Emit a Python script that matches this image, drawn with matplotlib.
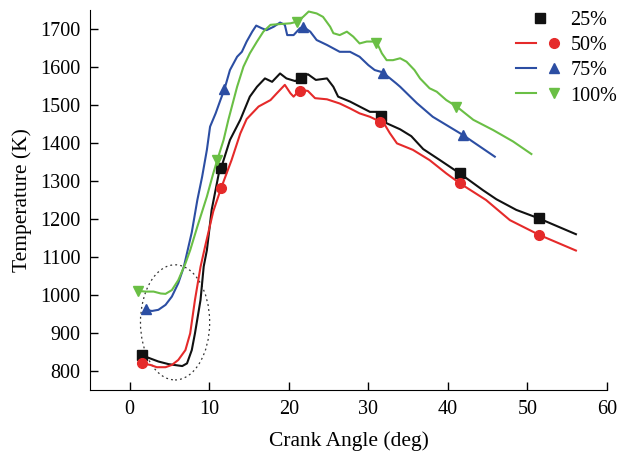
import numpy as np
import matplotlib
matplotlib.use("Agg")
import matplotlib.pyplot as plt
from matplotlib.patches import Ellipse
from matplotlib.legend_handler import HandlerTuple

plt.rcParams['font.family'] = ['Liberation Serif', 'DejaVu Serif']
plt.rcParams['mathtext.fontset'] = 'stix'

## Data
labels = ["25%", "50%", "75%", "100%"]
colors = ["#111111", "#e52a2a", "#2c4ea3", "#6abf45"]
markers = ["s", "o", "^", "v"]

# 25%
x25 = [1.5, 2.2, 3.6, 4.9, 6.6, 7.2, 7.8, 8.2, 8.9, 9.3, 9.7, 10.3, 11.2, 11.5, 12.6, 13.9,
       15.1, 16.0, 17.0, 17.9, 18.9, 19.7, 20.8, 21.4, 22.4, 23.4, 24.8, 25.6, 26.2, 27.7,
       28.9, 30.2, 31.0, 31.7, 32.3, 34.0, 35.4, 36.9, 39.0, 41.5, 44.4, 46.1, 48.6, 51.4, 56.1]
y25 = [842, 836, 825, 818, 813, 820, 855, 899, 987, 1075, 1118, 1224, 1320, 1335, 1408, 1461,
       1522, 1548, 1570, 1561, 1583, 1570, 1563, 1570, 1581, 1566, 1570, 1548, 1522, 1509,
       1496, 1482, 1482, 1471, 1452, 1436, 1418, 1384, 1355, 1320, 1276, 1252, 1224, 1202, 1160]
mx25 = [1.5, 11.5, 21.5, 31.6, 41.5, 51.4]
my25 = [842, 1335, 1571, 1471, 1320, 1202]

# 50%
x50 = [1.5, 2.6, 3.4, 4.5, 5.3, 6.1, 7.0, 7.6, 8.2, 8.9, 9.5, 10.5, 11.5, 12.8, 13.9, 14.7,
       16.2, 17.7, 18.5, 19.5, 20.2, 20.6, 21.4, 22.4, 23.3, 24.8, 26.4, 27.7, 28.9, 30.2,
       31.5, 32.1, 32.7, 33.6, 35.6, 37.7, 39.8, 41.5, 44.8, 47.8, 51.5, 56.1]
y50 = [820, 816, 810, 810, 816, 829, 855, 899, 987, 1074, 1130, 1220, 1282, 1355, 1425, 1463,
       1496, 1513, 1531, 1553, 1531, 1522, 1540, 1537, 1518, 1515, 1504, 1491, 1478, 1469,
       1456, 1447, 1426, 1399, 1382, 1355, 1320, 1294, 1250, 1197, 1158, 1117]
mx50 = [1.5, 11.5, 21.4, 31.5, 41.5, 51.5]
my50 = [820, 1282, 1538, 1456, 1294, 1158]

# 75%
x75 = [2.0, 2.8, 3.6, 4.5, 5.3, 6.1, 6.8, 7.8, 8.5, 9.1, 9.7, 10.1, 10.8, 11.4, 11.9, 12.6,
       13.5, 14.1, 14.7, 15.4, 15.9, 16.6, 17.2, 18.1, 18.9, 19.5, 19.8, 20.6, 21.4, 21.8,
       22.7, 23.5, 24.8, 26.4, 27.7, 28.9, 30.0, 30.8, 31.8, 33.5, 34.0, 36.1, 38.1, 41.9, 45.9]
y75 = [961, 958, 961, 974, 996, 1031, 1074, 1165, 1250, 1311, 1382, 1443, 1478, 1513, 1541, 1592,
       1627, 1640, 1667, 1693, 1709, 1702, 1697, 1706, 1717, 1711, 1684, 1684, 1702, 1706,
       1693, 1671, 1658, 1640, 1640, 1627, 1605, 1592, 1586, 1557, 1548, 1505, 1469, 1421, 1364]
mx75 = [2.0, 11.9, 21.8, 31.8, 41.9]
my75 = [963, 1541, 1706, 1584, 1421]

# 100%
x100 = [1.0, 2.0, 3.0, 3.9, 4.5, 5.3, 6.1, 7.0, 7.6, 8.5, 9.7, 10.5, 11.0, 11.8, 12.4, 13.5,
        14.3, 15.1, 16.0, 16.8, 17.7, 18.9, 20.2, 21.0, 21.8, 22.5, 23.5, 24.3, 25.2, 25.6,
        26.4, 27.3, 28.1, 28.9, 29.8, 31.0, 31.7, 32.3, 33.1, 34.0, 34.8, 35.8, 36.5, 37.7,
        38.6, 39.8, 41.1, 43.2, 45.7, 48.2, 50.5]
y100 = [1011, 1009, 1009, 1004, 1003, 1013, 1039, 1083, 1118, 1180, 1259, 1320, 1355, 1408, 1461, 1548,
        1601, 1636, 1667, 1693, 1711, 1713, 1715, 1719, 1732, 1746, 1741, 1732, 1706, 1689,
        1684, 1693, 1680, 1662, 1667, 1667, 1636, 1618, 1618, 1623, 1614, 1592, 1570, 1544,
        1535, 1513, 1496, 1461, 1434, 1404, 1371]
mx100 = [1.0, 11.0, 21.0, 31.0, 41.0]
my100 = [1011, 1355, 1719, 1664, 1495]

curves = [(x25, y25), (x50, y50), (x75, y75), (x100, y100)]
marks = [(mx25, my25), (mx50, my50), (mx75, my75), (mx100, my100)]


def main():
    fig = plt.figure(figsize=(6.27, 4.57), dpi=100)
    ax = fig.add_axes([0.1435, 0.1466, 0.8245, 0.8315])

    handles = []
    for i in range(4):
        line, = ax.plot(curves[i][0], curves[i][1], color=colors[i], lw=1.5)
        pts, = ax.plot(marks[i][0], marks[i][1], ls='none', marker=markers[i],
                       color=colors[i], ms=7)
        # 25% shows only the marker in the legend
        if i == 0:
            handles.append(pts)
        else:
            handles.append((line, pts))

    # dotted ellipse around the start region
    ax.add_patch(Ellipse((5.7, 928), 8.7, 303, fill=False, ls=(0, (1.5, 2.5)),
                         lw=0.9, color='#333333'))

    ax.set_xlim(-5, 60)
    ax.set_ylim(750, 1750)
    ax.set_xticks(np.arange(0, 61, 10))
    ax.set_yticks(np.arange(800, 1701, 100))
    ax.spines['top'].set_visible(False)
    ax.spines['right'].set_visible(False)
    ax.tick_params(direction='in', length=6, width=1, labelsize=14.5, pad=7)
    ax.set_xlabel("Crank Angle (deg)", fontsize=15.5, labelpad=9)
    ax.set_ylabel("Temperature (K)", fontsize=15.5, labelpad=6)

    ax.legend(handles, labels, handler_map={tuple: HandlerTuple(ndivide=None)},
              loc='upper right', bbox_to_anchor=(1.055, 1.045), frameon=False,
              fontsize=14.5, handlelength=2.4, handletextpad=0.3, labelspacing=0.3)

    fig.savefig("out.png", dpi=100)


if __name__ == "__main__":
    main()
